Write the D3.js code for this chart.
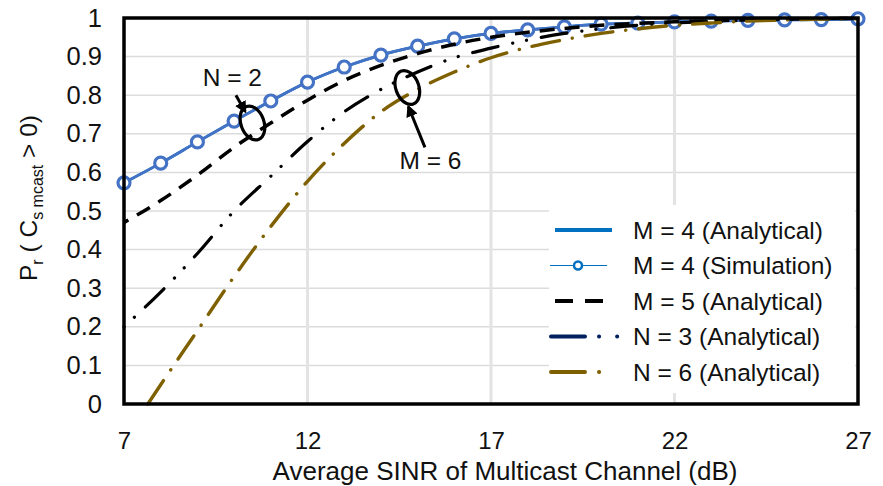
<!DOCTYPE html>
<html>
<head>
<meta charset="utf-8">
<script src="https://cdn.jsdelivr.net/npm/d3@7"></script>
<style>
  body { margin: 0; background: #fff; }
  svg text { font-family: "Liberation Sans", Arial, sans-serif; fill: #111; }
</style>
</head>
<body>
<svg id="chart" width="883" height="486"></svg>
<script>
// ---- data ----
var sinr = [7, 8, 9, 10, 11, 12, 13, 14, 15, 16, 17, 18, 19, 20, 21, 22, 23, 24, 25, 26, 27];
var m4Analytical = [0.573, 0.624, 0.679, 0.733, 0.785, 0.834, 0.873, 0.904, 0.927, 0.946, 0.96, 0.969, 0.977, 0.984, 0.987, 0.99, 0.992, 0.994, 0.995, 0.996, 0.998];
var m4Simulation = [0.573, 0.624, 0.679, 0.733, 0.785, 0.834, 0.873, 0.904, 0.927, 0.946, 0.96, 0.969, 0.977, 0.984, 0.987, 0.99, 0.992, 0.994, 0.995, 0.996, 0.998];
var m5Analytical = [0.47, 0.527, 0.593, 0.665, 0.728, 0.787, 0.838, 0.877, 0.908, 0.932, 0.95, 0.963, 0.973, 0.981, 0.986, 0.99, 0.993, 0.995, 0.997, 0.998, 0.999];
var n3Analytical = [0.2, 0.29, 0.39, 0.5, 0.59, 0.68, 0.757, 0.815, 0.86, 0.897, 0.922, 0.943, 0.96, 0.972, 0.981, 0.987, 0.991, 0.994, 0.996, 0.998, 0.999];
var n6Sinr = [7.65, 8, 9, 10, 11, 12, 13, 14, 15, 16, 17, 18, 19, 20, 21, 22, 23, 24, 25, 26, 27];
var n6Analytical = [0, 0.05, 0.19, 0.33, 0.46, 0.577, 0.675, 0.757, 0.815, 0.86, 0.897, 0.924, 0.944, 0.96, 0.972, 0.981, 0.987, 0.992, 0.995, 0.997, 0.998];

var xTicks = [7, 12, 17, 22, 27];
var yTicks = [0, 0.1, 0.2, 0.3, 0.4, 0.5, 0.6, 0.7, 0.8, 0.9, 1];
var legendLabels = ["M = 4 (Analytical)", "M = 4 (Simulation)", "M = 5 (Analytical)", "N = 3 (Analytical)", "N = 6 (Analytical)"];

var svg = d3.select("#chart");
var margin = {left: 124, right: 25, top: 18, bottom: 82};
var width = 883 - margin.left - margin.right;
var height = 486 - margin.top - margin.bottom;

var x = d3.scaleLinear().domain([7, 27]).range([0, width]);
var y = d3.scaleLinear().domain([0, 1]).range([height, 0]);

var g = svg.append("g")
    .attr("transform", "translate(" + margin.left + "," + margin.top + ")");

// gridlines
g.selectAll("line.hgrid")
    .data(yTicks.slice(1, -1))
    .enter().append("line")
    .attr("class", "hgrid")
    .attr("x1", 0).attr("x2", width)
    .attr("y1", function(d) { return y(d); })
    .attr("y2", function(d) { return y(d); })
    .attr("stroke", "#dcdcdc")
    .attr("stroke-width", 1.5);

g.selectAll("line.vgrid")
    .data(xTicks.slice(1, -1))
    .enter().append("line")
    .attr("class", "vgrid")
    .attr("x1", function(d) { return x(d); })
    .attr("x2", function(d) { return x(d); })
    .attr("y1", 0).attr("y2", height)
    .attr("stroke", "#e3e3e3")
    .attr("stroke-width", 3);

// tick labels via axes (no domain / tick lines)
var xAxis = g.append("g")
    .attr("transform", "translate(0," + height + ")")
    .call(d3.axisBottom(x).tickValues(xTicks).tickSize(0).tickPadding(28).tickFormat(d3.format("d")));
var yAxis = g.append("g")
    .call(d3.axisLeft(y).tickValues(yTicks).tickSize(0).tickPadding(22).tickFormat(function(d) { return d3.format("~g")(d); }));
xAxis.select(".domain").remove();
yAxis.select(".domain").remove();
xAxis.selectAll("text").style("font-size", "24px").attr("fill", "#111");
yAxis.selectAll("text").style("font-size", "25.5px").attr("fill", "#111");

// series
var line = d3.line()
    .x(function(d) { return x(d[0]); })
    .y(function(d) { return y(d[1]); })
    .curve(d3.curveMonotoneX);

function pairs(xs, ys) { return xs.map(function(v, i) { return [v, ys[i]]; }); }

var series = [
    {data: pairs(sinr, m4Analytical), color: "#0070c0", width: 2.8, dash: null, cap: "butt"},
    {data: pairs(sinr, m4Simulation), color: "#4472c4", width: 2.8, dash: null, cap: "butt", markers: true},
    {data: pairs(sinr, m5Analytical), color: "#000", width: 3.5, dash: "15,10", cap: "butt", offset: 10},
    {data: pairs(sinr, n3Analytical), color: "#000", width: 3.2, dash: "26,15,0.1,14,0.1,15", cap: "round", offset: 41},
    {data: pairs(n6Sinr, n6Analytical), color: "#7f6000", width: 3.4, dash: "28,13,0.1,13", cap: "round"}
];

series.forEach(function(s) {
    g.append("path")
        .datum(s.data)
        .attr("d", line)
        .attr("fill", "none")
        .attr("stroke", s.color)
        .attr("stroke-width", s.width)
        .attr("stroke-linecap", s.cap)
        .attr("stroke-dasharray", s.dash)
        .attr("stroke-dashoffset", s.offset || 0);
    if (s.markers) {
        g.selectAll("circle.sim")
            .data(s.data)
            .enter().append("circle")
            .attr("class", "sim")
            .attr("cx", function(d) { return x(d[0]); })
            .attr("cy", function(d) { return y(d[1]); })
            .attr("r", 6)
            .attr("fill", "#fff")
            .attr("stroke", s.color)
            .attr("stroke-width", 3.2);
    }
});

// frame
g.append("rect")
    .attr("width", width).attr("height", height)
    .attr("fill", "none")
    .attr("stroke", "#000")
    .attr("stroke-width", 3.5);

// annotations (ellipses + arrows), positioned in data units
var notes = [
    {text: "N = 2", ex: 10.5, ey: 0.728, tx: 9.95, ty: 0.825, ax1: 10.05, ay1: 0.8, ax2: 10.3, ay2: 0.758},
    {text: "M = 6", ex: 14.72, ey: 0.82, tx: 15.35, ty: 0.61, ax1: 15.2, ay1: 0.665, ax2: 14.75, ay2: 0.77}
];

svg.append("defs").append("marker")
    .attr("id", "head")
    .attr("viewBox", "0 0 10 10")
    .attr("refX", 8).attr("refY", 5)
    .attr("markerWidth", 4).attr("markerHeight", 4)
    .attr("orient", "auto")
    .append("path")
    .attr("d", "M0,0 L10,5 L0,10 z")
    .attr("fill", "#000");

notes.forEach(function(n) {
    g.append("ellipse")
        .attr("transform", "translate(" + x(n.ex) + "," + y(n.ey) + ") rotate(-20)")
        .attr("rx", 11.5).attr("ry", 17.5)
        .attr("fill", "none")
        .attr("stroke", "#000")
        .attr("stroke-width", 3.2);
    g.append("line")
        .attr("x1", x(n.ax1)).attr("y1", y(n.ay1))
        .attr("x2", x(n.ax2)).attr("y2", y(n.ay2))
        .attr("stroke", "#000")
        .attr("stroke-width", 3)
        .attr("marker-end", "url(#head)");
    g.append("text")
        .attr("x", x(n.tx)).attr("y", y(n.ty))
        .attr("text-anchor", "middle")
        .style("font-size", "24.5px")
        .text(n.text);
});

// legend
var legend = g.append("g").attr("transform", "translate(" + (549 - margin.left) + "," + (205 - margin.top) + ")");
legend.append("rect").attr("width", 306).attr("height", 188).attr("fill", "#fff");

var legendStyle = [
    {color: "#0070c0", width: 4, dash: null, x1: 6, x2: 63},
    {color: "#0070c0", width: 1.2, dash: null, x1: 1, x2: 58, marker: true},
    {color: "#000", width: 4, dash: "18,12", x1: 6, x2: 63},
    {color: "#002060", width: 4, dash: "34,14,0.1,18,0.1,30", cap: "round", x1: 2, x2: 70},
    {color: "#7f6000", width: 4, dash: "34,14,0.1,30", cap: "round", x1: 2, x2: 70}
];

legendLabels.forEach(function(label, i) {
    var row = legend.append("g").attr("transform", "translate(0," + (25 + i * 35.5) + ")");
    var st = legendStyle[i];
    row.append("line")
        .attr("x1", st.x1).attr("x2", st.x2)
        .attr("stroke", st.color)
        .attr("stroke-width", st.width)
        .attr("stroke-linecap", st.cap || "butt")
        .attr("stroke-dasharray", st.dash);
    if (st.marker) {
        row.append("circle")
            .attr("cx", 29).attr("r", 4)
            .attr("fill", "#fff")
            .attr("stroke", st.color)
            .attr("stroke-width", 2.5);
    }
    row.append("text")
        .attr("x", 84).attr("dy", "0.35em")
        .style("font-size", "24.5px")
        .text(label);
});

// axis titles
svg.append("text")
    .attr("x", 505)
    .attr("y", 479.5)
    .attr("text-anchor", "middle")
    .style("font-size", "26px")
    .text("Average SINR of Multicast Channel (dB)");

var yTitle = svg.append("text")
    .attr("transform", "translate(37,198) rotate(-90)")
    .attr("text-anchor", "middle")
    .style("font-size", "24.5px");
yTitle.append("tspan").text("P");
yTitle.append("tspan").attr("dy", 6).style("font-size", "16px").text("r");
yTitle.append("tspan").attr("dy", -6).text(" ( C");
yTitle.append("tspan").attr("dy", 6).style("font-size", "16px").text("s mcast");
yTitle.append("tspan").attr("dy", -6).text(" > 0)");
</script>
</body>
</html>
